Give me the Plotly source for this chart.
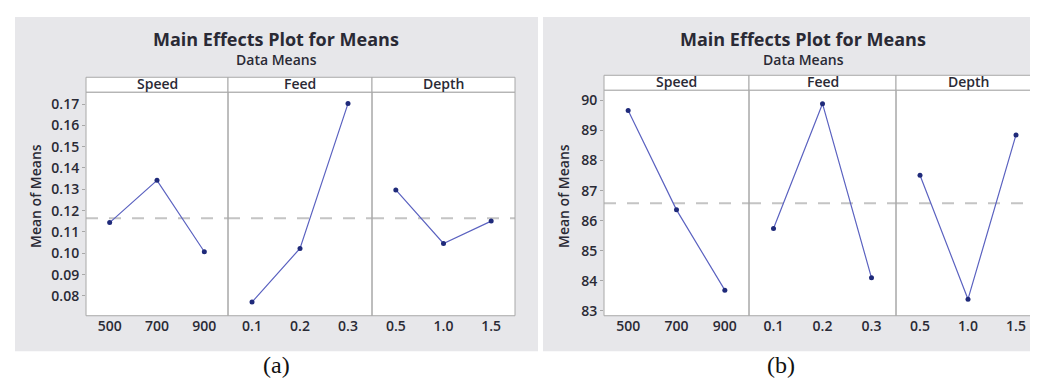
import plotly.graph_objects as go

W, H = 1038, 382

factors = ["Speed", "Feed", "Depth"]
levels = {
    "Speed": ["500", "700", "900"],
    "Feed": ["0.1", "0.2", "0.3"],
    "Depth": ["0.5", "1.0", "1.5"],
}
# Chart (a)
a_speed = [0.1144, 0.1342, 0.1007]
a_feed = [0.0771, 0.1023, 0.1702]
a_depth = [0.1297, 0.1046, 0.1151]
a_ticks = [0.08, 0.09, 0.10, 0.11, 0.12, 0.13, 0.14, 0.15, 0.16, 0.17]
a_ticklabels = ["0.08", "0.09", "0.10", "0.11", "0.12", "0.13", "0.14", "0.15", "0.16", "0.17"]
# Chart (b)
b_speed = [89.66, 86.36, 83.69]
b_feed = [85.74, 89.89, 84.10]
b_depth = [87.51, 83.39, 88.85]
b_ticks = [83, 84, 85, 86, 87, 88, 89, 90]

title_text = "Main Effects Plot for Means"
subtitle_text = "Data Means"
ytitle = "Mean of Means"

def px(x):
    return x / W

def py(y):
    return 1 - y / H

fig = go.Figure()

FONT = "Open Sans"
TXT = "#2a2a35"
LINE = "#5b62c0"
MARK = "#1f2a7a"
FRAME = "#a8a8a8"

charts = [
    dict(data=[a_speed, a_feed, a_depth], xs=[(78, 220), (220, 364), (364, 507)],
         top=85, strip=70, bottom=311, yrange=[0.0707, 0.1756], ticks=a_ticks,
         ticklabels=a_ticklabels, yaxis="y", ax0=1, bg=(7, 530), title_x=268,
         ytitle_x=27, label="(a)", label_x=268),
    dict(data=[b_speed, b_feed, b_depth], xs=[(596, 741), (741, 888), (888, 1032)],
         top=83, strip=68, bottom=311, yrange=[82.84, 90.34], ticks=b_ticks,
         ticklabels=[str(t) for t in b_ticks], yaxis="y2", ax0=4, bg=(535, 1038), title_x=795,
         ytitle_x=555, label="(b)", label_x=773),
]

shapes = []
annotations = []
layout = {}

for c in charts:
    shapes.append(dict(type="rect", xref="paper", yref="paper", layer="below",
                       x0=px(c["bg"][0]), x1=px(c["bg"][1]), y0=py(347), y1=py(9),
                       fillcolor="#e7e7ea", line=dict(width=0)))
    shapes.append(dict(type="rect", xref="paper", yref="paper", layer="below",
                       x0=px(c["xs"][0][0]), x1=px(c["xs"][-1][1]), y0=py(c["bottom"]), y1=py(c["strip"]),
                       fillcolor="white", line=dict(width=0)))
    allvals = [v for d in c["data"] for v in d]
    grand_mean = sum(allvals) / len(allvals)
    yname = c["yaxis"]
    ykey = "yaxis" if yname == "y" else "yaxis" + yname[1:]
    for i, (fac, vals, (x0, x1)) in enumerate(zip(factors, c["data"], c["xs"])):
        n = c["ax0"] + i
        xname = "x" if n == 1 else f"x{n}"
        xkey = "xaxis" if n == 1 else f"xaxis{n}"
        fig.add_trace(go.Scatter(
            x=levels[fac], y=vals, xaxis=xname, yaxis=yname, mode="lines+markers",
            line=dict(color=LINE, width=1.2), marker=dict(color=MARK, size=5),
            showlegend=False, hoverinfo="x+y"))
        layout[xkey] = dict(domain=[px(x0), px(x1)], anchor=yname, type="category",
                            categoryorder="array", categoryarray=levels[fac],
                            range=[-0.5, 2.5], showgrid=False, zeroline=False,
                            showline=False, ticks="", fixedrange=True,
                            tickfont=dict(family=FONT, size=14, color=TXT, weight=600))
        shapes.append(dict(type="rect", xref="paper", yref="paper",
                           x0=px(x0), x1=px(x1), y0=py(c["bottom"]), y1=py(c["top"]),
                           line=dict(color=FRAME, width=1), fillcolor="rgba(0,0,0,0)"))
        shapes.append(dict(type="rect", xref="paper", yref="paper",
                           x0=px(x0), x1=px(x1), y0=py(c["top"]), y1=py(c["strip"]),
                           line=dict(color=FRAME, width=1), fillcolor="white"))
        annotations.append(dict(text=fac, xref="paper", yref="paper",
                                x=px((x0 + x1) / 2), y=py((c["top"] + c["strip"]) / 2 - 1),
                                showarrow=False, xanchor="center", yanchor="middle",
                                font=dict(family=FONT, size=14, color=TXT, weight=600)))
        shapes.append(dict(type="line", xref=f"{xname} domain", yref=yname,
                           x0=0, x1=1, y0=grand_mean, y1=grand_mean, layer="below",
                           line=dict(color="#c4c4c4", width=2, dash="12px,11px")))
    first_x = "x" if c["ax0"] == 1 else f"x{c['ax0']}"
    layout[ykey] = dict(domain=[py(c["bottom"]), py(c["top"])], anchor=first_x,
                        range=c["yrange"], tickvals=c["ticks"], ticktext=c["ticklabels"],
                        ticks="outside", ticklen=3, tickcolor=FRAME, showgrid=False,
                        zeroline=False, showline=False, fixedrange=True,
                        tickfont=dict(family=FONT, size=14, color=TXT, weight=600))
    annotations.append(dict(text=ytitle, xref="paper", yref="paper",
                            x=px(c["ytitle_x"]), y=py(190), textangle=-90,
                            showarrow=False, xanchor="center", yanchor="middle",
                            font=dict(family=FONT, size=14, color=TXT, weight=600)))
    annotations.append(dict(text=title_text, xref="paper", yref="paper",
                            x=px(c["title_x"]), y=py(31), showarrow=False,
                            xanchor="center", yanchor="middle",
                            font=dict(family=FONT, size=18, color=TXT, weight=700)))
    annotations.append(dict(text=subtitle_text, xref="paper", yref="paper",
                            x=px(c["title_x"]), y=py(52), showarrow=False,
                            xanchor="center", yanchor="middle",
                            font=dict(family=FONT, size=14, color=TXT, weight=600)))
    annotations.append(dict(text=c["label"], xref="paper", yref="paper",
                            x=px(c["label_x"]), y=py(361), showarrow=False,
                            xanchor="center", yanchor="middle",
                            font=dict(family="Liberation Serif", size=24, color="#111")))

fig.update_layout(width=W, height=H, margin=dict(l=0, r=0, t=0, b=0),
                  paper_bgcolor="white", plot_bgcolor="rgba(0,0,0,0)",
                  shapes=shapes, annotations=annotations, **layout)

fig.write_html("out.html")
